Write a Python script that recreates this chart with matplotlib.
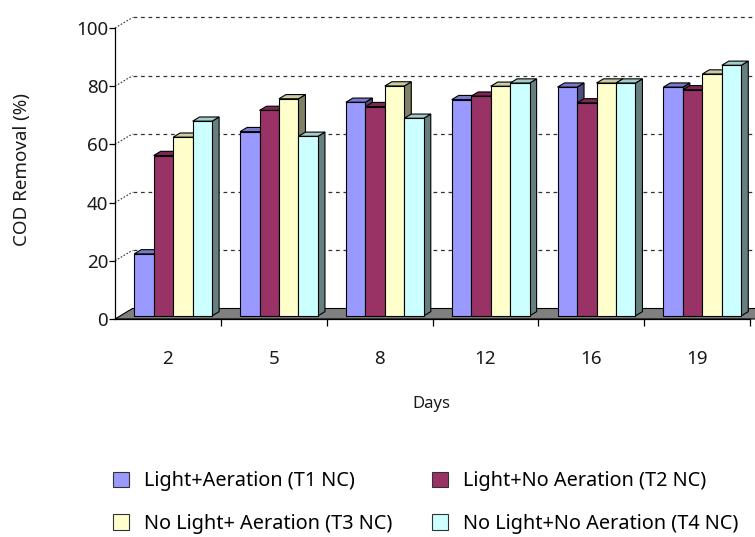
import matplotlib
matplotlib.use("Agg")
import matplotlib.pyplot as plt
from matplotlib.patches import Polygon, Patch

plt.rcParams['font.family'] = ['Noto Sans', 'DejaVu Sans']

days = ["2", "5", "8", "12", "16", "19"]
series_names = [
    "Light+Aeration (T1 NC)",
    "Light+No Aeration (T2 NC)",
    "No Light+ Aeration (T3 NC)",
    "No Light+No Aeration (T4 NC)",
]
t1 = [21.3, 63.3, 73.4, 74.3, 78.6, 78.6]
t2 = [55.1, 70.6, 71.9, 75.5, 73.2, 77.7]
t3 = [61.4, 74.6, 79.0, 78.9, 80.0, 83.1]
t4 = [66.9, 61.7, 67.9, 80.0, 80.0, 86.1]
yticks = [0, 20, 40, 60, 80, 100]

# face colours: (front, top, side)
faces = [
    ("#9999FF", "#7A7ACC", "#4D4D80"),
    ("#993366", "#7A2952", "#4D1A33"),
    ("#FFFFCC", "#CCCCA3", "#808066"),
    ("#CCFFFF", "#A3CCCC", "#668080"),
]
text_color = "#1a1a1a"

W, H = 755, 537
fig = plt.figure(figsize=(W / 100, H / 100), dpi=100)
ax = fig.add_axes([115 / W, 1 - 319 / H, (750 - 115) / W, (319 - 28) / H])
ax.set_xlim(0, len(days))
ax.set_ylim(0, 100)

# oblique depth projection (data units)
px_x = (750 - 115) / len(days)
px_y = (319 - 28) / 100
fdx, fdy = 17.5 / px_x, 10.5 / px_y          # full floor depth
bdx0, bdy0 = 0.3 * fdx, 0.3 * fdy            # bar front plane
bdx, bdy = 0.4 * fdx, 0.4 * fdy              # bar depth

# back wall gridlines
for v in yticks[1:]:
    ax.plot([0, fdx], [v, v + fdy], color="#333333", lw=0.8,
            ls=(0, (1.5, 1.5)), clip_on=False, zorder=1)
    ax.plot([fdx, len(days) + fdx], [v + fdy, v + fdy], color="#333333",
            lw=0.9, ls=(0, (3, 3)), clip_on=False, zorder=1)

# floor
floor = Polygon([(0, 0), (len(days) + 0.2, 0), (len(days) + 0.2 + fdx, fdy), (fdx, fdy)],
                closed=True, facecolor="#808080", edgecolor="black", lw=0.8,
                clip_on=False, zorder=2)
ax.add_patch(floor)

bw = 0.184
values = [t1, t2, t3, t4]
for i in range(len(days)):
    for k, vals in enumerate(values):
        v = vals[i]
        x0 = i + 0.5 - 2 * bw + k * bw + bdx0
        y0 = bdy0
        x1 = x0 + bw
        y1 = y0 + v
        fc, tc, sc = faces[k]
        side = Polygon([(x1, y0), (x1 + bdx, y0 + bdy), (x1 + bdx, y1 + bdy), (x1, y1)],
                       closed=True, facecolor=sc, edgecolor="black", lw=0.8,
                       clip_on=False, zorder=3)
        top = Polygon([(x0, y1), (x1, y1), (x1 + bdx, y1 + bdy), (x0 + bdx, y1 + bdy)],
                      closed=True, facecolor=tc, edgecolor="black", lw=0.8,
                      clip_on=False, zorder=3)
        front = Polygon([(x0, y0), (x1, y0), (x1, y1), (x0, y1)],
                        closed=True, facecolor=fc, edgecolor="black", lw=0.8,
                        clip_on=False, zorder=3)
        ax.add_patch(side)
        ax.add_patch(top)
        ax.add_patch(front)

for s in ["top", "right"]:
    ax.spines[s].set_visible(False)
for s in ["left", "bottom"]:
    ax.spines[s].set_linewidth(0.9)
    ax.spines[s].set_zorder(4)
ax.patch.set_alpha(0)

ax.set_yticks(yticks)
ax.set_yticklabels([str(v) for v in yticks], fontsize=13.5, color=text_color)
ax.tick_params(axis="y", length=4, width=0.9, pad=1)

ax.set_xticks(range(1, len(days) + 1))
ax.set_xticklabels([])
ax.tick_params(axis="x", which="major", length=5, width=0.9)
ax.set_xticks([i + 0.5 for i in range(len(days))], minor=True)
ax.set_xticklabels(days, minor=True, fontsize=13.5, color=text_color)
ax.tick_params(axis="x", which="minor", length=0, pad=22.5)

fig.text(22 / W, 1 - 170 / H, "COD Removal (%)", rotation=90, ha="center",
         va="center", fontsize=13.5, color=text_color)
fig.text(431 / W, 1 - 404 / H, "Days", ha="center", va="center",
         fontsize=12, color=text_color)

handles = [Patch(facecolor=faces[k][0], edgecolor="#333333", lw=0.8) for k in range(4)]
order = [0, 2, 1, 3]
fig.legend([handles[k] for k in order], [series_names[k] for k in order],
           ncol=2, frameon=False, loc="upper left",
           bbox_to_anchor=(113 / W, 1 - 471 / H), fontsize=14.3,
           handlelength=0.8, handleheight=0.8, handletextpad=0.75,
           columnspacing=2.0, labelspacing=1.15, borderaxespad=0,
           borderpad=0)

fig.savefig("out.png", dpi=100, facecolor="white")
